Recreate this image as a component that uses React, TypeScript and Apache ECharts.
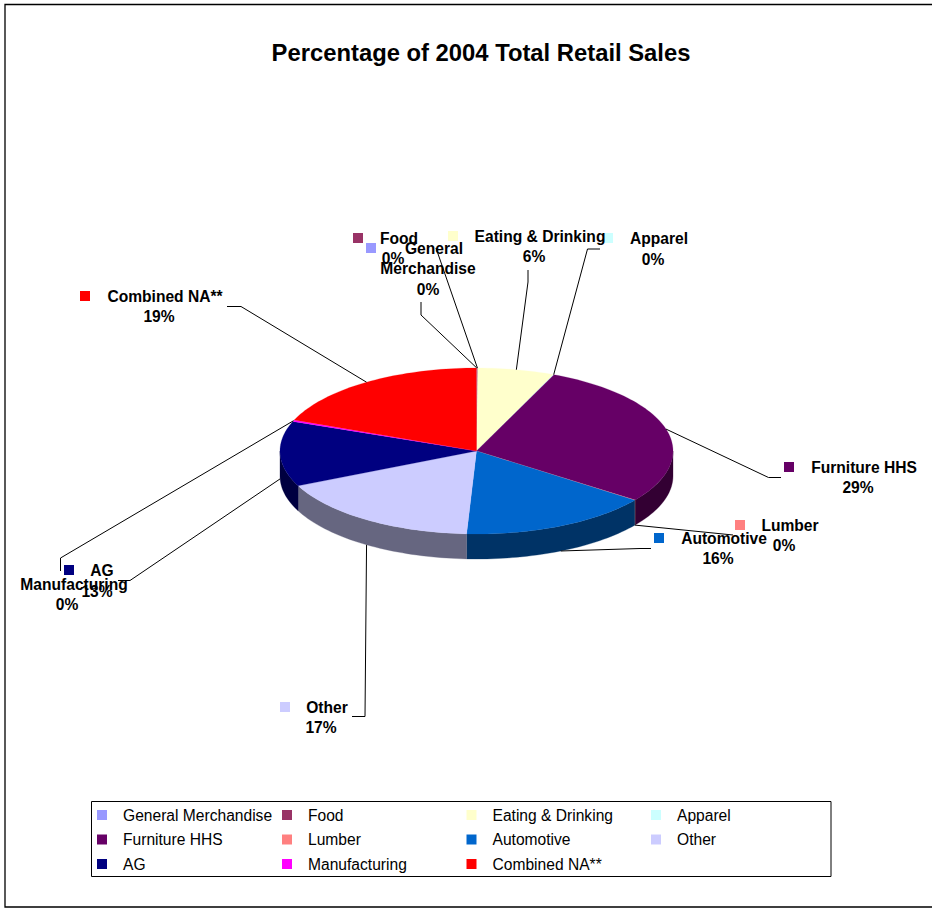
import React, { useEffect, useRef } from "react";
import * as echarts from "echarts";

const TITLE = "Percentage of 2004 Total Retail Sales";
const categories = ["General Merchandise", "Food", "Eating & Drinking", "Apparel", "Furniture HHS", "Lumber", "Automotive", "Other", "AG", "Manufacturing", "Combined NA**"];
const shares = [0.05, 0.05, 6.3, 0.05, 28.6, 0.05, 15.7, 17.3, 12.7, 0.3, 18.9];
const colors = ["#9999FF", "#993366", "#FFFFCC", "#CCFFFF", "#660066", "#FF8080", "#0066CC", "#CCCCFF", "#000080", "#FF00FF", "#FF0000"];
const sideColors = ["#4C4C80", "#4C1933", "#808066", "#668080", "#330033", "#804040", "#003366", "#666680", "#000040", "#800080", "#800000"];
const legendColumns = [
  ["General Merchandise", "Furniture HHS", "AG"],
  ["Food", "Lumber", "Manufacturing"],
  ["Eating & Drinking", "Automotive", "Combined NA**"],
  ["Apparel", "Other"],
];

// Pie geometry (page pixels)
const CX = 476.5, CY = 451, RX = 196.5, RY = 83, DEPTH = 25;
const FONT = "'Liberation Sans', Arial, sans-serif";

type Lay = { marker?: [number, number]; names: [string, number, number][]; pct: [number, number]; elbow: [number, number][] };
const labelLayout: Lay[] = [
  { marker: [366, 243], names: [["General", 434, 248], ["Merchandise", 428, 268]], pct: [428, 289], elbow: [[421, 315], [421, 302]] },
  { marker: [353, 233], names: [["Food", 399, 238]], pct: [393, 258], elbow: [[436, 248]] },
  { marker: [448, 231], names: [["Eating & Drinking", 540, 236]], pct: [534, 256], elbow: [[528, 282], [528, 270]] },
  { marker: [603, 233], names: [["Apparel", 659, 238]], pct: [653, 259], elbow: [[587.5, 249], [600, 249]] },
  { marker: [784, 462], names: [["Furniture HHS", 864, 467]], pct: [858, 487], elbow: [[768.5, 477.5], [781, 477.5]] },
  { marker: [735, 520], names: [["Lumber", 790, 525]], pct: [784, 545], elbow: [[733, 535]] },
  { marker: [654, 533], names: [["Automotive", 724, 538]], pct: [718, 558], elbow: [[640, 548.5], [651, 548.5]] },
  { marker: [280, 702], names: [["Other", 327, 707]], pct: [321, 727], elbow: [[365, 716.5], [352, 716.5]] },
  { marker: [64, 565], names: [["AG", 102, 570]], pct: [97, 591], elbow: [[130, 580.5], [118, 580.5]] },
  { names: [["Manufacturing", 74, 584]], pct: [67, 604], elbow: [[60.5, 558], [60.5, 571]] },
  { marker: [80, 291], names: [["Combined NA**", 165, 296]], pct: [159, 316], elbow: [[241, 306.5], [227, 306.5]] },
];

const total = shares.reduce((a, b) => a + b, 0);
const point = (deg: number, dy = 0): [number, number] => {
  const r = (deg * Math.PI) / 180;
  return [CX + RX * Math.sin(r), CY - RY * Math.cos(r) + dy];
};
const arc = (a0: number, a1: number, dy = 0) => {
  const n = Math.max(2, Math.ceil(Math.abs(a1 - a0) / 1.5));
  const pts: [number, number][] = [];
  for (let i = 0; i <= n; i++) pts.push(point(a0 + ((a1 - a0) * i) / n, dy));
  return pts;
};

const renderSlice = (params: any, api: any) => {
  const i = params.seriesIndex;
  const value = api.value(0);
  const before = shares.slice(0, i).reduce((a, b) => a + b, 0);
  const a0 = (before / total) * 360;
  const a1 = a0 + (value / total) * 360;
  const mid = (a0 + a1) / 2;
  const children: any[] = [];

  // front wall
  const s0 = Math.max(a0, 90), s1 = Math.min(a1, 270);
  if (s1 > s0) {
    children.push({
      type: "polygon",
      shape: { points: [...arc(s0, s1), ...arc(s1, s0, DEPTH)] },
      style: { fill: sideColors[i], stroke: sideColors[i], lineWidth: 0.3 },
    });
  }
  // top face
  children.push({
    type: "polygon",
    shape: { points: [[CX, CY], ...arc(a0, a1)] },
    style: { fill: colors[i], stroke: colors[i], lineWidth: 0.2 },
  });

  // leader
  const lay = labelLayout[i];
  const front = mid > 90 && mid < 270;
  children.push({
    type: "polyline",
    shape: { points: [point(mid, front ? DEPTH : 0), ...lay.elbow] },
    style: { fill: "none", stroke: "#000", lineWidth: 1 },
    z2: 5,
  });
  if (lay.marker) {
    children.push({
      type: "rect",
      shape: { x: lay.marker[0], y: lay.marker[1], width: 10, height: 10 },
      style: { fill: colors[i] },
      z2: 6,
    });
  }
  const textStyle = { fill: "#000", font: `bold 15.6px ${FONT}`, textAlign: "center", textVerticalAlign: "middle" };
  for (const [t, x, y] of lay.names) {
    children.push({ type: "text", x, y, style: { ...textStyle, text: t, x: 0, y: 0 }, z2: 7 });
  }
  children.push({
    type: "text",
    x: lay.pct[0],
    y: lay.pct[1],
    style: { ...textStyle, text: `${Math.round((value / total) * 100)}%`, x: 0, y: 0 },
    z2: 7,
  });
  return { type: "group", children };
};

const legendLeft = [97, 282, 466.5, 651];

export default function App() {
  const ref = useRef<HTMLDivElement>(null);
  useEffect(() => {
    const chart = echarts.init(ref.current!, undefined, { renderer: "svg" });
    chart.setOption({
      animation: false,
      backgroundColor: "#fff",
      title: {
        text: TITLE,
        left: 476,
        top: 35,
        textAlign: "center",
        textStyle: { fontFamily: FONT, fontWeight: "bold", fontSize: 23.8, color: "#000" },
      },
      legend: legendColumns.map((data, k) => ({
        data,
        orient: "vertical",
        left: legendLeft[k],
        top: 807,
        padding: 0,
        itemWidth: 10,
        itemHeight: 10,
        itemGap: 8.5,
        icon: "rect",
        selectedMode: false,
        textStyle: { fontFamily: FONT, fontSize: 15.6, color: "#000", lineHeight: 16, padding: [0, 0, 0, 11] },
      })),
      graphic: [
        { type: "polyline", shape: { points: [[932, 4.5], [5, 4.5], [5, 907], [932, 907]] }, style: { fill: "none", stroke: "#000", lineWidth: 1.3 } },
        { type: "rect", shape: { x: 91.5, y: 801.5, width: 739.5, height: 75 }, style: { fill: "none", stroke: "#000", lineWidth: 1 } },
      ],
      series: categories.map((name, i) => ({
        type: "custom",
        name,
        coordinateSystem: "none",
        silent: true,
        clip: false,
        itemStyle: { color: colors[i] },
        data: [shares[i]],
        renderItem: renderSlice,
      })),
    });
    return () => chart.dispose();
  }, []);
  return <div ref={ref} style={{ position: "absolute", left: 0, top: 0, width: 932, height: 908 }} />;
}
